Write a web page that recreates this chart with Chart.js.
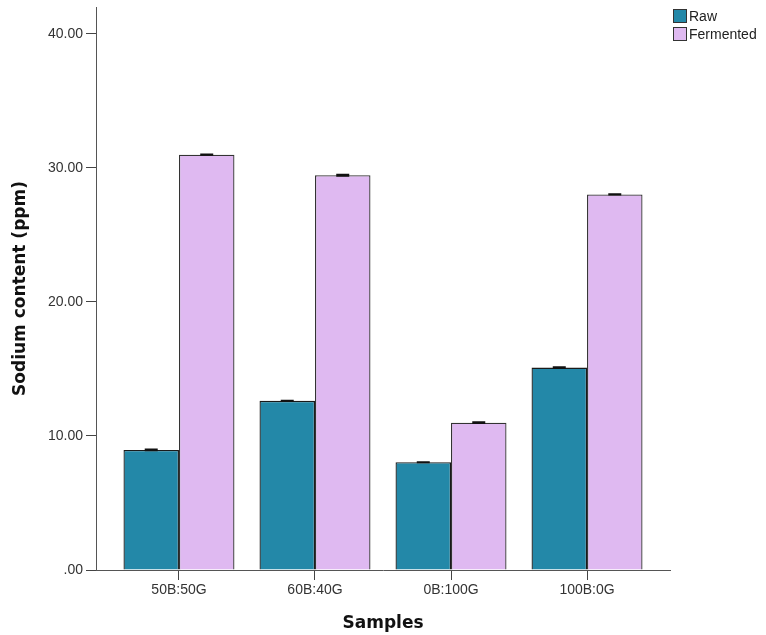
<!DOCTYPE html>
<html>
<head>
<meta charset="utf-8">
<script src="https://cdn.jsdelivr.net/npm/chart.js@4/dist/chart.umd.min.js"></script>
<style>
  html, body { margin: 0; padding: 0; background: #fff; }
  #wrap { position: relative; width: 766px; height: 635px; }
  #legend { position: absolute; left: 673px; top: 9px; font: 14px "Liberation Sans", Arial, sans-serif; color: #222; }
  #legend div { height: 18px; line-height: 14px; display: flex; align-items: flex-start; }
  #legend span.box { display: inline-block; width: 12px; height: 12px; border: 1px solid #333; margin-right: 2px; }
</style>
</head>
<body>
<div id="wrap">
  <canvas id="chart" width="766" height="635"></canvas>
  <div id="legend"></div>
</div>
<script>
// Data
const categories = ['50B:50G', '60B:40G', '0B:100G', '100B:0G'];
const rawValues = [8.96, 12.62, 8.04, 15.10];
const fermentedValues = [30.98, 29.45, 10.99, 28.02];
const rawErrors = [0.04, 0.02, 0.02, 0.05];
const fermentedErrors = [0.03, 0.05, 0.05, 0.03];
const yTicks = [0, 10, 20, 30, 40];

const seriesNames = ['Raw', 'Fermented'];
const seriesColors = ['#2388a8', '#dfb9f1'];

// Legend in html, top right corner
const legendEl = document.getElementById('legend');
seriesNames.forEach((name, i) => {
  const row = document.createElement('div');
  row.innerHTML = `<span class="box" style="background:${seriesColors[i]}"></span>${name}`;
  legendEl.appendChild(row);
});

// small error bars with caps on top of each bar
const errorBars = {
  id: 'errorBars',
  afterDatasetsDraw(chart) {
    const ctx = chart.ctx;
    const yScale = chart.scales.y;
    const errs = [rawErrors, fermentedErrors];
    chart.data.datasets.forEach((ds, di) => {
      const meta = chart.getDatasetMeta(di);
      meta.data.forEach((bar, i) => {
        const v = ds.data[i].y;
        const top = yScale.getPixelForValue(v + errs[di][i]);
        const bottom = yScale.getPixelForValue(v - errs[di][i]);
        ctx.save();
        ctx.strokeStyle = '#111';
        ctx.lineWidth = 1.5;
        ctx.beginPath();
        ctx.moveTo(bar.x, top);
        ctx.lineTo(bar.x, bottom);
        ctx.moveTo(bar.x - 6.5, top);
        ctx.lineTo(bar.x + 6.5, top);
        ctx.moveTo(bar.x - 6.5, bottom);
        ctx.lineTo(bar.x + 6.5, bottom);
        ctx.stroke();
        ctx.restore();
      });
    });
  }
};

const tickFont = { family: '"Liberation Sans", Arial, sans-serif', size: 14 };
const titleFont = { family: '"DejaVu Sans", Verdana, sans-serif', size: 17, weight: 'bold' };

new Chart(document.getElementById('chart'), {
  type: 'bar',
  data: {
    datasets: [
      {
        label: seriesNames[0],
        data: rawValues.map((v, i) => ({ x: i, y: v })),
        backgroundColor: seriesColors[0],
        borderColor: '#1a1a1a',
        borderWidth: 1.3
      },
      {
        label: seriesNames[1],
        data: fermentedValues.map((v, i) => ({ x: i, y: v })),
        backgroundColor: seriesColors[1],
        borderColor: '#333',
        borderWidth: 1.3
      }
    ]
  },
  options: {
    responsive: false,
    animation: false,
    categoryPercentage: 0.816,
    barPercentage: 1,
    layout: { padding: { top: 7, right: 96, left: 0, bottom: 0 } },
    plugins: {
      legend: { display: false },
      tooltip: { enabled: false }
    },
    scales: {
      x: {
        type: 'linear',
        min: -0.61,
        max: 3.61,
        offset: false,
        afterFit: (scale) => { scale.height = 65; },
        border: { display: true, color: '#555', width: 1 },
        grid: { display: true, offset: false, drawOnChartArea: false, tickLength: 10, color: '#444' },
        ticks: {
          stepSize: 1,
          includeBounds: false,
          autoSkip: false,
          maxRotation: 0,
          color: '#333',
          font: tickFont,
          padding: 2,
          callback: (v) => categories[v] ?? ''
        },
        title: {
          display: true,
          text: 'Samples',
          color: '#111',
          font: titleFont,
          padding: { top: 0, bottom: 1 }
        }
      },
      y: {
        min: 0,
        max: 42,
        afterFit: (scale) => { scale.width = 96; scale.paddingTop = 0; },
        afterBuildTicks: (scale) => { scale.ticks = yTicks.map(v => ({ value: v })); },
        border: { display: true, color: '#555', width: 1 },
        grid: { display: true, drawOnChartArea: false, tickLength: 10, color: '#444' },
        ticks: {
          color: '#333',
          font: tickFont,
          padding: 3,
          callback: (v) => v === 0 ? '.00' : v.toFixed(2)
        },
        title: {
          display: true,
          text: 'Sodium content (ppm)',
          color: '#111',
          font: titleFont,
          padding: { top: 10, bottom: 0 }
        }
      }
    }
  },
  plugins: [errorBars]
});
</script>
</body>
</html>
